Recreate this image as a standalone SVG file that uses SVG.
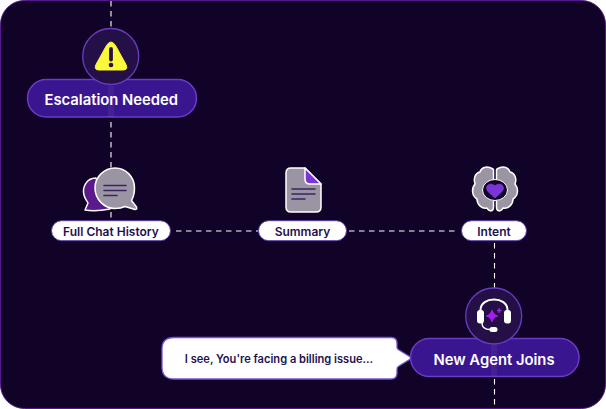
<svg xmlns="http://www.w3.org/2000/svg" width="606" height="409" viewBox="0 0 606 409">
<style>
.pill{fill:#3a1590;stroke:#6a3cc4;stroke-width:1.5}
.big{font:600 14.800px Inter,"Liberation Sans",sans-serif;fill:#fff;text-anchor:middle}
.tag{fill:#fff;stroke:#5a3aa8;stroke-width:1}
.small{font:600 12px Inter,"Liberation Sans",sans-serif;fill:#24104f;text-anchor:middle}
.disc{fill:#241047;stroke:#6a3cc4;stroke-width:1.3}
.line{stroke:#fff;stroke-width:1.100;stroke-dasharray:5.500 4.500;fill:none}
.ic{fill:#9b95a3;stroke:#fff;stroke-width:1.500;stroke-linejoin:round}
.ln{stroke:#3a2560;stroke-width:1.600;stroke-linecap:round;fill:none}
.glow{fill:#fff;opacity:.05}
</style>
<rect width="606" height="409" fill="#fff"/>
<rect x=".5" y=".5" width="605" height="408" rx="24" fill="#110228" stroke="#55188a"/>
<g id="connectors">
<path class="line" d="M111 1V27M111 122V220"/>
<path class="line" d="M176 231H258M349 231H456"/>
<path class="line" d="M494.500 243V288M494.500 379V409"/>
</g>
<g id="escalation">
<rect class="pill" x="27.500" y="79.500" width="169" height="37.500" rx="18.700"/>
<rect class="glow" x="108" y="86" width="6" height="31"/>
<circle class="disc" cx="110.700" cy="56.500" r="28"/>
<path d="M106.500 45.500L96 64.500Q93.500 70 99 70H123Q128.500 70 126 64.500L115.500 45.500Q111 38.500 106.500 45.500Z" fill="#fbf73a" stroke="#fbf73a" stroke-linejoin="round"/>
<path d="M111 49V59.500" stroke="#241047" stroke-width="3.800" stroke-linecap="round"/>
<circle cx="111" cy="65" r="2.300" fill="#241047"/>
<text class="big" x="111.300" y="104.500">Escalation Needed</text>
</g>
<g id="full-chat-history">
<path d="M96 178C86 178 82 188 84 195C85 199 87 201 88 203L85 210Q95 212 110 209Z" fill="#5a1a8c" stroke="#fff" stroke-width="1.500" stroke-linejoin="round"/>
<path class="ic" d="M115 168C126 168 134.500 177 134.500 188C134.500 193 133.500 197 131.500 200.500L136.500 207Q137.500 209.500 135 209.500L125 206.500C122 208 118.500 208.500 115 208.500C104 208.500 95 199 95 188C95 177 104 168 115 168Z"/>
<path class="ln" d="M104 185.500H126M104 190.500H126M104 195.500H117"/>
<rect class="tag" x="51.500" y="220.700" width="119" height="20" rx="10"/>
<text class="small" x="111" y="235.600">Full Chat History</text>
</g>
<g id="summary">
<path class="ic" d="M291 168H305L321 184V207Q321 212 316 212H291Q286 212 286 207V173Q286 168 291 168Z"/>
<path d="M305 168L321 184H310Q305 184 305 179Z" fill="#7a35d6" stroke="#fff" stroke-width="1.500" stroke-linejoin="round"/>
<path class="ln" d="M292 189H315M292 194H315M292 199H305"/>
<rect class="tag" x="258.500" y="220.700" width="88" height="20" rx="10"/>
<text class="small" x="302.500" y="235.600">Summary</text>
</g>
<g id="intent">
<path class="ic" d="M493 169C486 165 481 168 480 172C475 173 473 179 475 184C471 189 472 196 477 199C477 205 482 209 487 208C489 212 493.500 212 493.500 207V170Q493.500 169 493 169Z"/>
<path class="ic" d="M497 169C504 165 509 168 510 172C515 173 517 179 515 184C519 189 518 196 513 199C513 205 508 209 503 208C501 212 496.500 212 496.500 207V170Q496.500 169 497 169Z"/>
<ellipse cx="495" cy="190" rx="12.500" ry="10.500" fill="#110228" stroke="#fff" stroke-width="1"/>
<path d="M495 198L488 191.500C484 186 490 181.500 495 186C500 181.500 506 186 502 191.500Z" fill="#7a35d6" stroke="#7a35d6" stroke-linejoin="round"/>
<rect class="tag" x="461.500" y="220.700" width="65" height="20" rx="10"/>
<text class="small" x="494" y="235.600">Intent</text>
</g>
<g id="new-agent">
<path d="M162 349Q162 337.500 174 337.500H391Q397 337.500 397 343V347.500Q397 349 399 350L412 358L399 366Q397 367 397 369V373Q397 379 391 379H174Q162 379 162 367Z" fill="#fff" stroke="#7a55d0" stroke-width="1.300"/>
<text x="279" y="363" font-family="Inter,'Liberation Sans',sans-serif" font-size="11.100" font-weight="600" fill="#24104f" text-anchor="middle">I see, You're facing a billing issue...</text>
<rect class="pill" x="410.500" y="338.500" width="168.500" height="38" rx="19"/>
<rect class="glow" x="491" y="345" width="6" height="31"/>
<circle class="disc" cx="493.700" cy="316" r="28"/>
<path d="M480.500 313V310C480.500 296 507.500 296 507.500 310V313" fill="none" stroke="#fff" stroke-width="2"/>
<rect x="477" y="310" width="7" height="13.500" rx="3" fill="#fff"/>
<rect x="504" y="310" width="7" height="13.500" rx="3" fill="#fff"/>
<path d="M482 323C482 328 486 329.500 490 329.500" fill="none" stroke="#fff" stroke-width="1.500"/>
<rect x="489.500" y="327" width="8" height="5" rx="2.500" fill="#fff"/>
<path d="M492 310.500Q493 315 497.500 316Q493 317 492 321.500Q491 317 486.500 316Q491 315 492 310.500Z" fill="#a81cf0" stroke="#a81cf0" stroke-width="1.200" stroke-linejoin="round"/>
<path d="M497 310.500H501.500M499.200 308V313" stroke="#a81cf0" stroke-width="1.400"/>
<text class="big" x="494" y="364.500">New Agent Joins</text>
</g>
</svg>
